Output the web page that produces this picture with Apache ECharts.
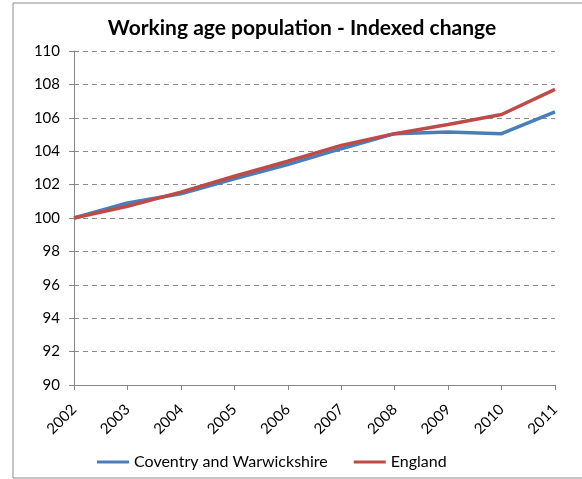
<!DOCTYPE html>
<html>
<head>
<meta charset="utf-8">
<script src="https://cdn.jsdelivr.net/npm/echarts@6/dist/echarts.min.js"></script>
<style>
  html, body { margin: 0; padding: 0; background: #fff; }
  #chart { width: 582px; height: 479px; }
</style>
</head>
<body>
<div id="chart"></div>
<script>
// years on the x axis
const years = ['2002', '2003', '2004', '2005', '2006', '2007', '2008', '2009', '2010', '2011'];
// indexed working age population, 2002 = 100
const coventryWarwickshire = [100, 100.9, 101.45, 102.35, 103.2, 104.15, 105.05, 105.15, 105.05, 106.35];
const england = [100, 100.7, 101.55, 102.5, 103.4, 104.35, 105.05, 105.6, 106.2, 107.7];

const font = 'Lato, "Open Sans", sans-serif';
const chart = echarts.init(document.getElementById('chart'));

const option = {
    animation: false,
    backgroundColor: '#fff',
    title: {
        text: 'Working age population - Indexed change',
        left: 297,
        textAlign: 'center',
        top: 13,
        textStyle: { fontFamily: font, fontSize: 21, fontWeight: 'bold', color: '#000' }
    },
    // outer frame of the chart
    graphic: [{
        type: 'rect',
        shape: { x: 13, y: 3, width: 620, height: 475 },
        style: { fill: 'none', stroke: '#8c8c8c', lineWidth: 1 },
        silent: true
    }],
    grid: { left: 74, right: 27, top: 51, bottom: 94 },
    legend: {
        bottom: 4,
        left: 92,
        itemWidth: 32,
        itemHeight: 3,
        itemGap: 26,
        icon: 'rect',
        textStyle: { fontFamily: font, fontSize: 16, color: '#000' },
        data: ['Coventry and Warwickshire', 'England']
    },
    xAxis: {
        type: 'category',
        data: years,
        boundaryGap: false,
        axisLine: { lineStyle: { color: '#868686' } },
        axisTick: { alignWithLabel: true, length: 5, lineStyle: { color: '#868686' } },
        axisLabel: { rotate: 45, fontFamily: font, fontSize: 15, color: '#000', margin: 22 }
    },
    yAxis: {
        type: 'value',
        min: 90,
        max: 110,
        interval: 2,
        axisLine: { show: true, lineStyle: { color: '#868686' } },
        axisTick: { show: true, length: 5, inside: false, lineStyle: { color: '#868686' } },
        axisLabel: { fontFamily: font, fontSize: 15, color: '#000', margin: 14 },
        splitLine: { lineStyle: { color: '#8c8c8c', type: [5, 4] } }
    },
    series: [
        {
            name: 'Coventry and Warwickshire',
            type: 'line',
            data: coventryWarwickshire,
            symbol: 'none',
            color: '#4a7ebb',
            lineStyle: { width: 3.5, color: '#4a7ebb' }
        },
        {
            name: 'England',
            type: 'line',
            data: england,
            symbol: 'none',
            color: '#be4b48',
            lineStyle: { width: 3.5, color: '#be4b48' }
        }
    ]
};

chart.setOption(option);
</script>
</body>
</html>
